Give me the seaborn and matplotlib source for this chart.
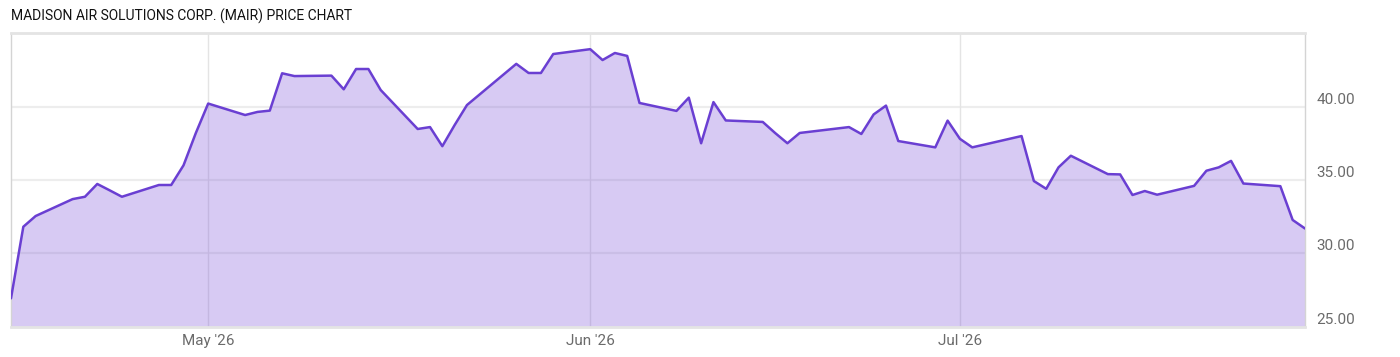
import numpy as np
import pandas as pd
import seaborn as sns
import matplotlib.pyplot as plt
import matplotlib.dates as mdates
from matplotlib.ticker import FormatStrFormatter

# daily closes
dates = ['2026-04-15', '2026-04-16', '2026-04-17', '2026-04-20', '2026-04-21', '2026-04-22',
         '2026-04-23', '2026-04-24', '2026-04-27', '2026-04-28', '2026-04-29', '2026-04-30',
         '2026-05-01', '2026-05-04', '2026-05-05', '2026-05-06', '2026-05-07', '2026-05-08',
         '2026-05-11', '2026-05-12', '2026-05-13', '2026-05-14', '2026-05-15', '2026-05-18',
         '2026-05-19', '2026-05-20', '2026-05-21', '2026-05-22', '2026-05-26', '2026-05-27',
         '2026-05-28', '2026-05-29', '2026-06-01', '2026-06-02', '2026-06-03', '2026-06-04',
         '2026-06-05', '2026-06-08', '2026-06-09', '2026-06-10', '2026-06-11', '2026-06-12',
         '2026-06-15', '2026-06-16', '2026-06-17', '2026-06-18', '2026-06-22', '2026-06-23',
         '2026-06-24', '2026-06-25', '2026-06-26', '2026-06-29', '2026-06-30', '2026-07-01',
         '2026-07-02', '2026-07-06', '2026-07-07', '2026-07-08', '2026-07-09', '2026-07-10',
         '2026-07-13', '2026-07-14', '2026-07-15', '2026-07-16', '2026-07-17', '2026-07-20',
         '2026-07-21', '2026-07-22', '2026-07-23', '2026-07-24', '2026-07-27', '2026-07-28',
         '2026-07-29']
prices = [26.95, 31.82, 32.55, 33.70, 33.86, 34.73,
          34.30, 33.86, 34.66, 34.66, 36.00, 38.20,
          40.20, 39.42, 39.63, 39.72, 42.26, 42.07,
          42.10, 41.17, 42.55, 42.55, 41.12, 38.47,
          38.60, 37.30, 38.74, 40.10, 42.90, 42.28,
          42.28, 43.57, 43.90, 43.16, 43.64, 43.44,
          40.24, 39.70, 40.60, 37.50, 40.30, 39.05,
          38.95, 38.20, 37.50, 38.20, 38.60, 38.13,
          39.46, 40.06, 37.65, 37.22, 39.04, 37.80,
          37.22, 37.99, 34.93, 34.40, 35.86, 36.65,
          35.40, 35.38, 33.98, 34.25, 34.00, 34.60,
          35.63, 35.86, 36.30, 34.76, 34.58, 32.28,
          31.70]
month_ticks = ['2026-05-01', '2026-06-01', '2026-07-01']
month_labels = ["May '26", "Jun '26", "Jul '26"]
price_ticks = [25, 30, 35, 40]

df = pd.DataFrame({'date': pd.to_datetime(dates), 'price': prices})

sns.set_style('white')
plt.rcParams['font.family'] = ['Roboto', 'DejaVu Sans']

line_col = '#6a3fd2'
fig = plt.figure(figsize=(14, 3.57), dpi=100)
ax = fig.add_axes([11/1400, 30/357, 1294/1400, 294/357])

ax.fill_between(df['date'], df['price'], 25, color='#7b52d8', alpha=0.3, lw=0, zorder=2)
sns.lineplot(data=df, x='date', y='price', ax=ax, color=line_col, lw=1.8, zorder=3)

ax.set_xlim(df['date'].iloc[0], df['date'].iloc[-1])
ax.set_ylim(25, 45)

# grid
for p in price_ticks[1:]:
    ax.axhline(p, color='#ededed', lw=1.6, zorder=1)
for m in month_ticks:
    ax.axvline(pd.Timestamp(m), color='#e4e4e4', lw=1, zorder=1)

ax.set_xticks(pd.to_datetime(month_ticks))
ax.set_xticklabels(month_labels)
ax.yaxis.tick_right()
ax.set_yticks(price_ticks)
ax.yaxis.set_major_formatter(FormatStrFormatter('%.2f'))
ax.tick_params(axis='both', length=0, labelsize=11, colors='#6b6b6b')
ax.tick_params(axis='x', pad=5)
ax.tick_params(axis='y', pad=8)
for lab in ax.get_yticklabels():
    lab.set_va('bottom')
ax.set_xlabel('')
ax.set_ylabel('')

for side in ['left', 'right']:
    ax.spines[side].set_color('#d4d4d4')
    ax.spines[side].set_linewidth(1)
for side in ['top', 'bottom']:
    ax.spines[side].set_color('#e4e4e4')
    ax.spines[side].set_linewidth(2)

fig.text(11/1400, 1 - 21/357, 'MADISON AIR SOLUTIONS CORP. (MAIR) PRICE CHART',
         fontsize=10, color='#111111', va='baseline', ha='left')

fig.savefig('out.png', dpi=100)
